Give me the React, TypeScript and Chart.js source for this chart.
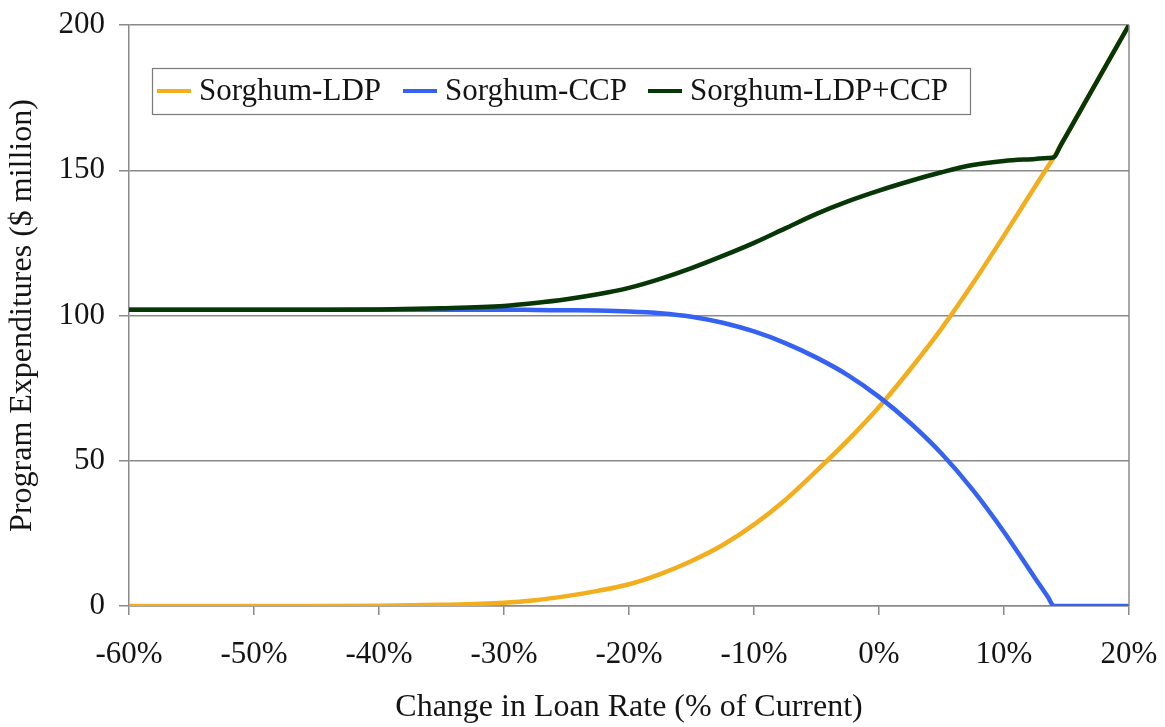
import React, { useEffect, useRef } from 'react';
import { Chart, registerables } from 'chart.js';

Chart.register(...registerables);

// Change in loan rate (% of current)
const xValues = [-60, -55, -50, -45, -40, -35, -30, -27.5, -25, -22.5, -20, -17.5, -15, -12.5, -10, -7.5, -5, -2.5, 0, 2.5, 5, 7.5, 10, 12.5, 13.5, 14, 14.5, 15, 20];
// Program expenditures ($ million)
const ldpValues = [0, 0, 0, 0, 0.1, 0.4, 1.1, 2, 3.4, 5.2, 7.5, 11, 15.5, 21, 28, 36.5, 46.5, 57, 68.5, 81.5, 95.5, 111, 127.5, 144.5, 151.2, 154.5, 158.3, 162.1, 200];
const ccpValues = [102, 102, 102, 102, 102, 102, 102, 101.9, 101.8, 101.7, 101.4, 100.8, 99.6, 97.5, 94.5, 90.5, 85.5, 79.5, 72, 63, 52.5, 40, 25.5, 9.5, 3.2, 0, 0, 0, 0];
const totalValues = [102, 102, 102, 102, 102.1, 102.5, 103.3, 104.3, 105.6, 107.3, 109.5, 112.6, 116.3, 120.5, 125, 130, 135, 139.3, 143, 146.3, 149.3, 151.8, 153.2, 153.9, 154.2, 154.5, 158.3, 162.1, 200];

const xTicks = [-60, -50, -40, -30, -20, -10, 0, 10, 20];
const yTicks = [0, 50, 100, 150, 200];

const seriesNames = ['Sorghum-LDP', 'Sorghum-CCP', 'Sorghum-LDP+CCP'];
const seriesColors = ['#F2AE1C', '#3562F2', '#073607'];

const FONT = "'Liberation Serif', 'Times New Roman', serif";
const GRID = '#8a8a8a';
const TEXT = '#141414';

const toPoints = (ys: number[]) => xValues.map((x, i) => ({ x, y: ys[i] }));

const plotExtras = {
  id: 'plotExtras',
  afterDraw(chart: any) {
    const { ctx, chartArea: a } = chart;
    ctx.save();
    // right border of plot box
    ctx.strokeStyle = GRID;
    ctx.lineWidth = 1.5;
    ctx.beginPath();
    ctx.moveTo(a.right, a.top);
    ctx.lineTo(a.right, a.bottom);
    ctx.stroke();
    // legend box
    const lx = a.left + 23;
    const ly = a.top + 43;
    const lw = 818;
    const lh = 46;
    ctx.fillStyle = '#ffffff';
    ctx.fillRect(lx, ly, lw, lh);
    ctx.strokeStyle = '#7a7a7a';
    ctx.lineWidth = 1.2;
    ctx.strokeRect(lx + 0.5, ly + 0.5, lw, lh);
    ctx.font = `31px ${FONT}`;
    ctx.textBaseline = 'middle';
    ctx.textAlign = 'left';
    const cy = ly + lh / 2;
    const offsets = [5, 251, 496];
    seriesNames.forEach((name, i) => {
      const x = lx + offsets[i];
      ctx.strokeStyle = seriesColors[i];
      ctx.lineWidth = 4;
      ctx.beginPath();
      ctx.moveTo(x, cy);
      ctx.lineTo(x + 34, cy);
      ctx.stroke();
      ctx.fillStyle = TEXT;
      ctx.fillText(name, x + 42, cy + 1);
    });
    ctx.restore();
  },
};

export default function App() {
  const canvasRef = useRef<HTMLCanvasElement | null>(null);

  useEffect(() => {
    document.body.style.margin = '0';
    document.body.style.background = '#ffffff';
    const canvas = canvasRef.current;
    if (!canvas) return;
    const mk = (i: number, values: number[]) => ({
      label: seriesNames[i],
      data: toPoints(values),
      borderColor: seriesColors[i],
      backgroundColor: seriesColors[i],
      borderWidth: 4.5,
      pointRadius: 0,
      cubicInterpolationMode: 'monotone' as const,
    });
    const chart = new Chart(canvas, {
      type: 'line',
      data: {
        datasets: [mk(2, totalValues), mk(1, ccpValues), mk(0, ldpValues)],
      },
      options: {
        animation: false,
        responsive: true,
        maintainAspectRatio: false,
        layout: { padding: { left: 0, top: 25, right: 36, bottom: 0 } },
        plugins: {
          legend: { display: false },
          tooltip: { enabled: false },
        },
        scales: {
          x: {
            type: 'linear',
            min: -60,
            max: 20,
            afterBuildTicks: (scale: any) => {
              scale.ticks = xTicks.map((v) => ({ value: v }));
            },
            afterFit: (scale: any) => {
              scale.height = 121;
              scale.paddingLeft = 0;
              scale.paddingRight = 0;
            },
            ticks: {
              callback: (v: any) => `${v}%`,
              font: { family: FONT, size: 31 },
              color: TEXT,
              padding: 21,
              maxRotation: 0,
              autoSkip: false,
            },
            grid: {
              drawOnChartArea: false,
              drawTicks: true,
              tickLength: 9,
              color: GRID,
              lineWidth: 1.5,
            },
            border: { color: GRID, width: 1.5 },
            title: {
              display: true,
              text: 'Change in Loan Rate (% of Current)',
              font: { family: FONT, size: 32 },
              color: TEXT,
              padding: { top: 0, bottom: 0 },
            },
          },
          y: {
            min: 0,
            max: 200,
            afterBuildTicks: (scale: any) => {
              scale.ticks = yTicks.map((v) => ({ value: v }));
            },
            afterFit: (scale: any) => {
              scale.width = 129;
              scale.paddingTop = 0;
              scale.paddingBottom = 0;
            },
            ticks: {
              font: { family: FONT, size: 31 },
              color: TEXT,
              padding: 14,
            },
            grid: {
              color: GRID,
              lineWidth: 1.5,
              tickLength: 10,
            },
            border: { color: GRID, width: 1.5 },
            title: {
              display: true,
              text: 'Program Expenditures ($ million)',
              font: { family: FONT, size: 32 },
              color: TEXT,
              padding: { top: 3, bottom: 0 },
            },
          },
        },
      },
      plugins: [plotExtras],
    });
    return () => chart.destroy();
  }, []);

  return (
    <div style={{ position: 'relative', width: 1165, height: 727, background: '#ffffff' }}>
      <canvas ref={canvasRef} />
    </div>
  );
}
